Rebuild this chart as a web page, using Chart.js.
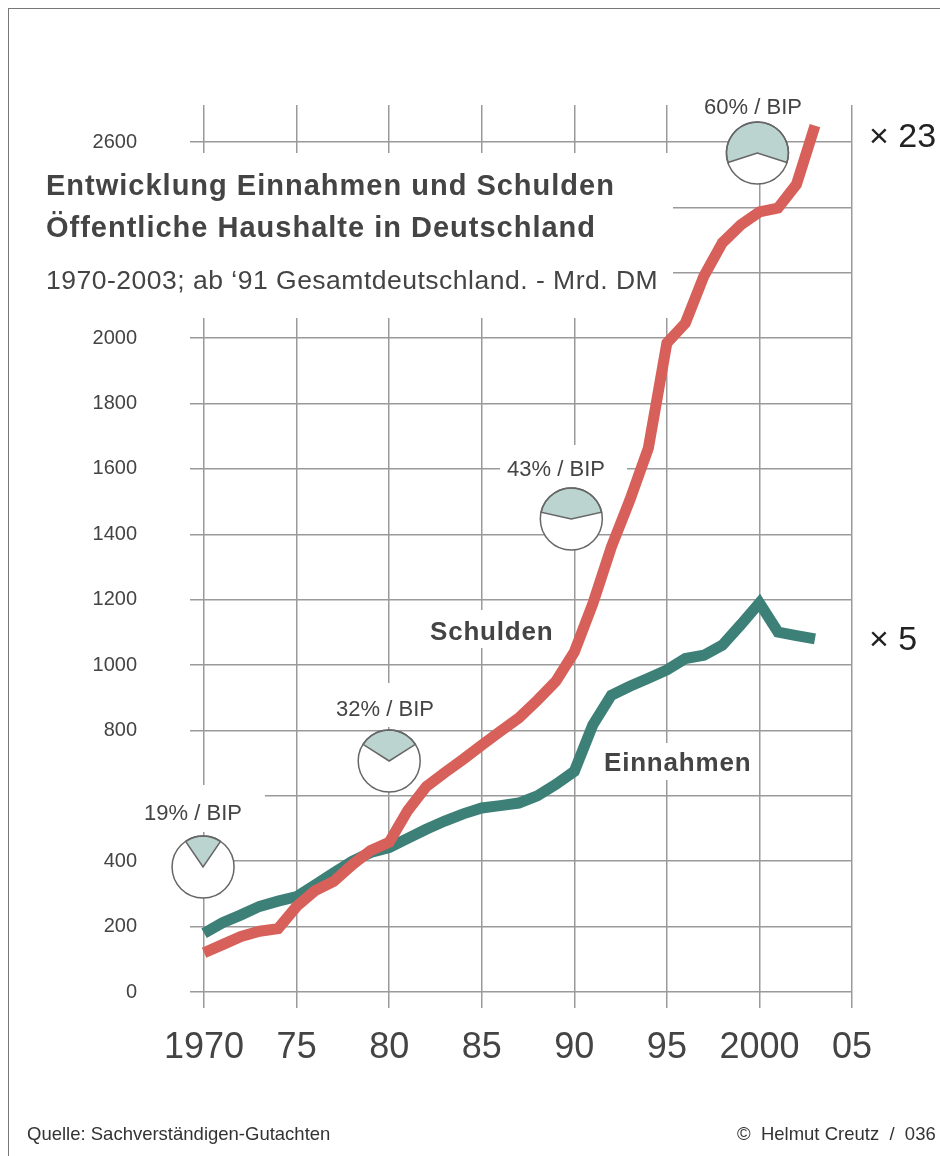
<!DOCTYPE html>
<html>
<head>
<meta charset="utf-8">
<script src="https://cdn.jsdelivr.net/npm/chart.js@4"></script>
<style>
  html, body { margin: 0; padding: 0; background: #fff; }
  #wrap { position: relative; width: 940px; height: 1156px; overflow: hidden; }
  #wrap canvas { position: absolute; left: 0; top: 0; }
  #frame { position: absolute; left: 8px; top: 8px; width: 1000px; height: 1200px;
           border: 1.5px solid #777; box-sizing: border-box; }
</style>
</head>
<body>
<div id="wrap">
  <canvas id="chart" width="940" height="1156"></canvas>
  <div id="frame"></div>
</div>
<script>
// Jahre 1970-2003, Mrd. DM
const years = [1970, 1971, 1972, 1973, 1974, 1975, 1976, 1977, 1978, 1979,
               1980, 1981, 1982, 1983, 1984, 1985, 1986, 1987, 1988, 1989,
               1990, 1991, 1992, 1993, 1994, 1995, 1996, 1997, 1998, 1999,
               2000, 2001, 2002, 2003];
const schulden = [120, 145, 170, 186, 194, 262, 310, 338, 389, 433,
                  458, 555, 628, 671, 712, 755, 797, 838, 892, 950,
                  1040, 1188, 1361, 1505, 1664, 1985, 2046, 2190, 2292, 2347,
                  2386, 2398, 2470, 2650];
const einnahmen = [180, 212, 236, 262, 278, 292, 328, 364, 400, 427,
                   442, 470, 498, 523, 545, 563, 570, 578, 600, 635,
                   675, 817, 908, 935, 960, 985, 1020, 1030, 1061, 1124,
                   1190, 1101, 1090, 1080];

const xTicks = [1970, 1975, 1980, 1985, 1990, 1995, 2000, 2005];
const xTickLabels = ['1970', '75', '80', '85', '90', '95', '2000', '05'];
const yTicks = [0, 200, 400, 600, 800, 1000, 1200, 1400, 1600, 1800, 2000, 2200, 2400, 2600];
const yTickLabels = ['0', '200', '400', '', '800', '1000', '1200', '1400', '1600', '1800', '2000', '', '', '2600'];

// Schuldenquote (% vom BIP)
const pieYears = [1970, 1980, 1990, 2000];
const pieShares = [19, 32, 43, 60];

const FONT = '"Liberation Sans", Arial, Helvetica, sans-serif';
const RED = '#d8605a';
const TEAL = '#3d8078';
const GRID = '#9a9a9a';
const TEXT = '#444';

// Lage der Kreise/Beschriftungen (Pixel)
const pieY = [867, 761, 519, 153];
const pieDx = [-1, 0, -3, -2];
const pieLabelPos = [[193, 814], [385, 710], [556, 470], [753, 108]];
const PIE_R = 31;

// weisse Flaechen, die das Raster hinter Texten abdecken
const masks = [
  [0, 153, 673, 165],     // Titelblock
  [425, 610, 135, 38],    // Schulden
  [598, 743, 160, 37],    // Einnahmen
  [135, 785, 130, 47],    // 19%
  [330, 683, 115, 44],    // 32%
  [500, 445, 127, 42],    // 43%
  [700, 95, 108, 27]      // 60%
];

const decor = {
  id: 'decor',
  beforeDatasetsDraw(chart) {
    const { ctx, scales: { x } } = chart;
    ctx.save();
    ctx.fillStyle = '#fff';
    masks.forEach(m => ctx.fillRect(m[0], m[1], m[2], m[3]));

    // Kreise
    pieYears.forEach((yr, i) => {
      const cx = x.getPixelForValue(yr) + pieDx[i];
      const cy = pieY[i];
      const a = pieShares[i] / 100 * Math.PI * 2;
      ctx.lineWidth = 1.5;
      ctx.strokeStyle = '#666';
      ctx.fillStyle = '#fff';
      ctx.beginPath();
      ctx.arc(cx, cy, PIE_R, 0, Math.PI * 2);
      ctx.fill();
      ctx.fillStyle = '#bcd4d0';
      ctx.beginPath();
      ctx.moveTo(cx, cy);
      ctx.arc(cx, cy, PIE_R, -Math.PI / 2 - a / 2, -Math.PI / 2 + a / 2);
      ctx.closePath();
      ctx.fill();
      ctx.stroke();
      ctx.beginPath();
      ctx.arc(cx, cy, PIE_R, 0, Math.PI * 2);
      ctx.stroke();

      ctx.fillStyle = TEXT;
      ctx.font = '22px ' + FONT;
      ctx.textAlign = 'center';
      ctx.textBaseline = 'middle';
      ctx.fillText(pieShares[i] + '% / BIP', pieLabelPos[i][0], pieLabelPos[i][1]);
    });
    ctx.restore();
  },
  afterDraw(chart) {
    const ctx = chart.ctx;
    ctx.save();
    ctx.textBaseline = 'alphabetic';
    ctx.textAlign = 'left';
    ctx.fillStyle = TEXT;

    ctx.letterSpacing = '1px';
    ctx.font = 'bold 29px ' + FONT;
    ctx.fillText('Entwicklung Einnahmen und Schulden', 46, 195);
    ctx.fillText('Öffentliche Haushalte in Deutschland', 46, 237);

    ctx.letterSpacing = '0.5px';
    ctx.font = '26.5px ' + FONT;
    ctx.fillText('1970-2003; ab \u201891 Gesamtdeutschland. - Mrd. DM', 46, 289);

    ctx.letterSpacing = '0.8px';
    ctx.font = 'bold 26px ' + FONT;
    ctx.fillText('Schulden', 430, 640);
    ctx.fillText('Einnahmen', 604, 771);

    ctx.letterSpacing = '0px';
    ctx.fillStyle = '#222';
    ctx.font = '34px ' + FONT;
    ctx.fillText('\u00d7 23', 869, 147);
    ctx.fillText('\u00d7 5', 869, 650);

    ctx.fillStyle = '#333';
    ctx.font = '18.5px ' + FONT;
    ctx.fillText('Quelle: Sachverständigen-Gutachten', 27, 1140);
    ctx.fillText('\u00a9  Helmut Creutz  /  036', 737, 1140);
    ctx.restore();
  }
};

Chart.defaults.font.family = FONT;
Chart.defaults.color = TEXT;

new Chart(document.getElementById('chart'), {
  type: 'line',
  data: {
    labels: years,
    datasets: [
      {
        label: 'Schulden',
        data: years.map((yr, i) => ({ x: yr, y: schulden[i] })),
        borderColor: RED,
        borderWidth: 11,
        order: 0
      },
      {
        label: 'Einnahmen',
        data: years.map((yr, i) => ({ x: yr, y: einnahmen[i] })),
        borderColor: TEAL,
        borderWidth: 11,
        order: 1
      }
    ]
  },
  options: {
    responsive: false,
    animation: false,
    events: [],
    layout: { padding: { top: 105, right: 88, left: 0, bottom: 0 } },
    elements: {
      point: { radius: 0 },
      line: { tension: 0, borderJoinStyle: 'miter', borderCapStyle: 'butt', fill: false }
    },
    plugins: { legend: { display: false }, tooltip: { enabled: false } },
    scales: {
      x: {
        type: 'linear',
        min: 1969.24,
        max: 2005,
        afterBuildTicks: s => { s.ticks = xTicks.map(v => ({ value: v })); },
        afterFit: s => { s.height = 148; },
        border: { display: false },
        grid: { color: GRID, lineWidth: 1.5, drawTicks: false },
        ticks: {
          padding: 18,
          maxRotation: 0,
          autoSkip: false,
          color: TEXT,
          font: { size: 36 },
          callback: v => xTickLabels[xTicks.indexOf(v)]
        }
      },
      y: {
        min: -48.9,
        max: 2713.2,
        afterBuildTicks: s => { s.ticks = yTicks.map(v => ({ value: v })); },
        afterFit: s => { s.width = 190; },
        border: { display: false },
        grid: { color: GRID, lineWidth: 1.5, drawTicks: false },
        ticks: {
          padding: 53,
          autoSkip: false,
          color: TEXT,
          font: { size: 20 },
          callback: v => yTickLabels[yTicks.indexOf(v)]
        }
      }
    }
  },
  plugins: [decor]
});
</script>
</body>
</html>
